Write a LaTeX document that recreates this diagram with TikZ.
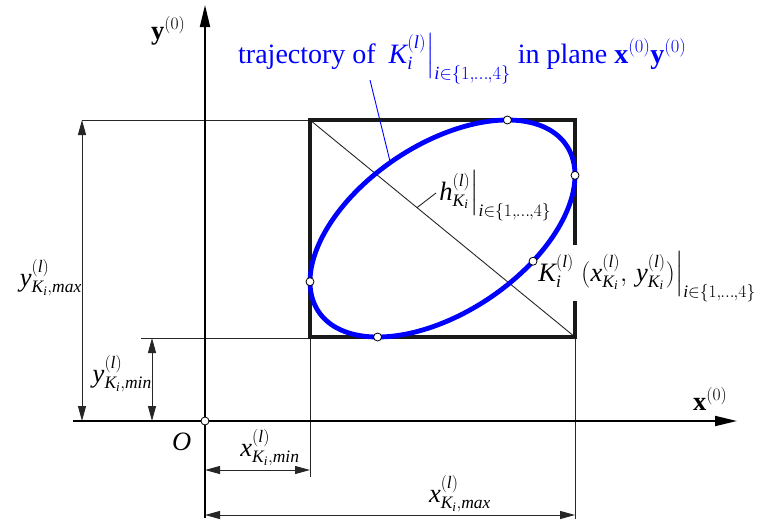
\RequirePackage{fix-cm}
\documentclass[tikz,border=0pt]{standalone}
\usepackage{amsmath}
\usepackage{fontspec}
\setmainfont{Liberation Serif}
\usetikzlibrary{arrows.meta,calc}
\DeclareMathSizes{26.5}{26.5}{17.5}{13}
\DeclareMathSizes{28}{28}{18.5}{14}
\newcommand\mi[1]{\textit{#1}}
\newcommand\Ki{\mi{K}_{\mi{i}}}
\newcommand\irange{\mi{i}{\in}\{1,\mkern-1mu\ldots\mkern-1mu,4\}}
\begin{document}
\begin{tikzpicture}[x=1pt,y=-1pt,
  thinline/.style={line width=0.9pt, draw=black!85},
  axisline/.style={line width=1.8pt, -{Triangle[length=22pt,width=10pt]}},
  dimline/.style={line width=1pt, draw=black!85, {Triangle[length=15pt,width=8pt]}-{Triangle[length=15pt,width=8pt]}},
  dot/.style={circle, draw=black, fill=white, line width=0.8pt, minimum size=8pt, inner sep=0pt},
  lbl/.style={inner sep=0pt, font=\fontsize{26.5}{30}\selectfont},
  rectline/.style={line width=4pt, draw=black!90, line join=miter},
  traj/.style={line width=4.8pt, draw=blue}]
\useasboundingbox (0,0) rectangle (763,522);
% key points
\coordinate (O) at (205,421);
\coordinate (TL) at (310,120);
\coordinate (BR) at (575,337);
\coordinate (yT) at (205,5);
\coordinate (yB) at (205,518);
\coordinate (xL) at (73,421);
\coordinate (xR) at (737,421);
% extension lines
\coordinate (eTop) at (82,120);
\coordinate (eMin) at (141,338);
\coordinate (eMinR) at (310,338);
\coordinate (eXmin) at (310,477);
\coordinate (eXmax) at (575,519);
% dimension ends
\coordinate (dMaxT) at (82,120);
\coordinate (dMaxB) at (82,421);
\coordinate (dMinT) at (152,338);
\coordinate (dMinB) at (152,421);
\coordinate (dxMinL) at (205,470);
\coordinate (dxMinR) at (310,470);
\coordinate (dxMaxL) at (205,515);
\coordinate (dxMaxR) at (575,515);
% ellipse points
\coordinate (Etop) at ({442.5+132.5*cos(60.66)},{228.5-108.5});
\coordinate (Ebot) at ({442.5-132.5*cos(60.66)},{228.5+108.5});
\coordinate (Ert) at (575,{228.5-108.5*cos(60.66)});
\coordinate (Elt) at (310,{228.5+108.5*cos(60.66)});
\coordinate (K) at ({442.5+132.5*cos(-46.9)},{228.5-108.5*cos(-46.9-60.66)});
\coordinate (Lend) at ({442.5+132.5*cos(113.2)},{228.5-108.5*cos(113.2-60.66)});
\coordinate (Lstart) at (370,80);
\coordinate (hd) at ($(TL)!0.4038!(BR)$);
\coordinate (hl) at (436,193);

% thin lines
\draw[thinline] (eTop) -- (TL);
\draw[thinline] (eMin) -- (eMinR);
\draw[thinline] (eMinR) -- (eXmin);
\draw[thinline] (BR) -- (eXmax);
\draw[thinline] (TL) -- (BR);
\draw[thinline] (hd) -- (hl);
% dimension lines
\draw[dimline] (dMaxT) -- (dMaxB);
\draw[dimline] (dMinT) -- (dMinB);
\draw[dimline] (dxMinL) -- (dxMinR);
\draw[dimline] (dxMaxL) -- (dxMaxR);
% axes
\draw[axisline] (yB) -- (yT);
\draw[axisline] (xL) -- (xR);
% rectangle with gap on the right side
\draw[rectline] (575,245) -- (575,120) -- (310,120) -- (310,337) -- (575,337) -- (575,301);
% trajectory
\draw[traj] plot[domain=0:360, samples=150, smooth, variable=\t] ({442.5+132.5*cos(\t)},{228.5-108.5*cos(\t-60.66)}) -- cycle;
\draw[blue, line width=0.9pt] (Lstart) -- (Lend);
% points
\node[dot] (nO) at (O) {};
\node[dot] (nTop) at (Etop) {};
\node[dot] (nBot) at (Ebot) {};
\node[dot] (nRt) at (Ert) {};
\node[dot] (nLt) at (Elt) {};
\node[dot] (nK) at (K) {};
% labels
\node[lbl, blue, anchor=base west, font=\fontsize{28}{32}\selectfont] (ltraj) at (238,63) {trajectory of\, $\left.\Ki^{(\mi{l})}\right|_{\irange}$ in plane $\textbf{x}^{(0)}\textbf{y}^{(0)}$};
\node[lbl, anchor=base west] (ly) at (151,39) {$\textbf{y}^{(0)}$};
\node[lbl, anchor=base west] (lx) at (693,410) {$\textbf{x}^{(0)}$};
\node[lbl, anchor=base west] (lO) at (172,450) {\mi{O}};
\node[lbl, anchor=east] (lymax) at (82,278) {$\mi{y}^{(\mi{l})}_{\Ki,\mi{max}}$};
\node[lbl, anchor=east] (lymin) at (152,374) {$\mi{y}^{(\mi{l})}_{\Ki,\mi{min}}$};
\node[lbl] (lxmin) at (270,448) {$\mi{x}^{(\mi{l})}_{\Ki,\mi{min}}$};
\node[lbl] (lxmax) at (460,494) {$\mi{x}^{(\mi{l})}_{\Ki,\mi{max}}$};
\node[lbl, anchor=west] (lh) at (438,196) {$\left.\mi{h}^{(\mi{l})}_{\Ki}\right|_{\irange}$};
\node[lbl, anchor=west] (lK) at (537,277) {$\left.\Ki^{(\mi{l})}\;(\mi{x}^{(\mi{l})}_{\Ki},\,\mi{y}^{(\mi{l})}_{\Ki})\right|_{\irange}$};
\end{tikzpicture}
\end{document}
